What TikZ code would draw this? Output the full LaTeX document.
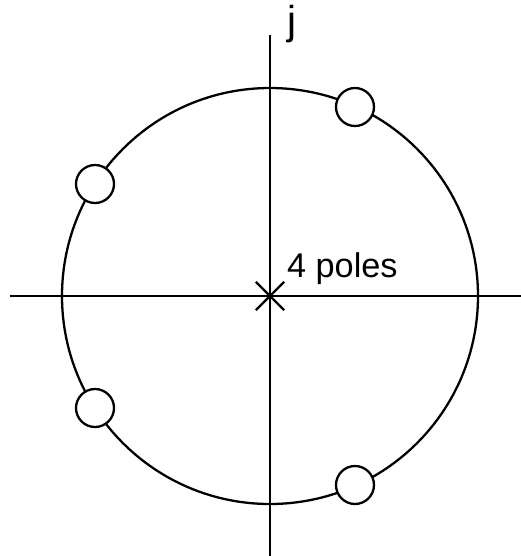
\documentclass[tikz,border=0pt]{standalone}
\usepackage{fontspec}
\setmainfont{Liberation Sans}
\usepackage{tikz}
\usetikzlibrary{shapes.misc}
\tikzset{
  polepicture/.style={x=0.02cm, y=-0.02cm, line width=1.3pt},
  poleaxis/.style={line width=1.3pt},
  poleunit/.style={draw, line width=1.3pt},
  polezero/.style={circle, draw, fill=white, line width=1.3pt, minimum size=0.76cm, inner sep=0pt},
  polecross/.style={cross out, draw, line width=1.3pt, minimum size=0.52cm, inner sep=0pt},
  polelabel/.style={inner sep=0pt, font=\fontsize{19.5}{22}\selectfont},
  polej/.style={inner sep=0pt, font=\fontsize{23}{26}\selectfont}
}

\begin{document}
\begin{tikzpicture}[polepicture]
\useasboundingbox (0,0) rectangle (521,556);
\coordinate (centre) at (270,296);
\coordinate (reW) at (10,296);
\coordinate (reE) at (521,296);
\coordinate (imN) at (270,35);
\coordinate (imS) at (270,556);
% axes and unit circle
\draw[poleaxis] (reW) -- (reE);
\draw[poleaxis] (imN) -- (imS);
\draw[poleunit] (centre) circle (208);
% zeros on the circle
\node[polezero] (zeroNE) at (355,107) {};
\node[polezero] (zeroNW) at (95,184) {};
\node[polezero] (zeroSW) at (95,408) {};
\node[polezero] (zeroSE) at (355,485) {};
% poles at the origin
\node[polecross] (poles) at (centre) {};
\node[polelabel, anchor=base west] (poleslabel) at (286,277) {4 poles};
\node[polej, anchor=base] (jlabel) at (291.5,34.5) {j};
\end{tikzpicture}
\end{document}
